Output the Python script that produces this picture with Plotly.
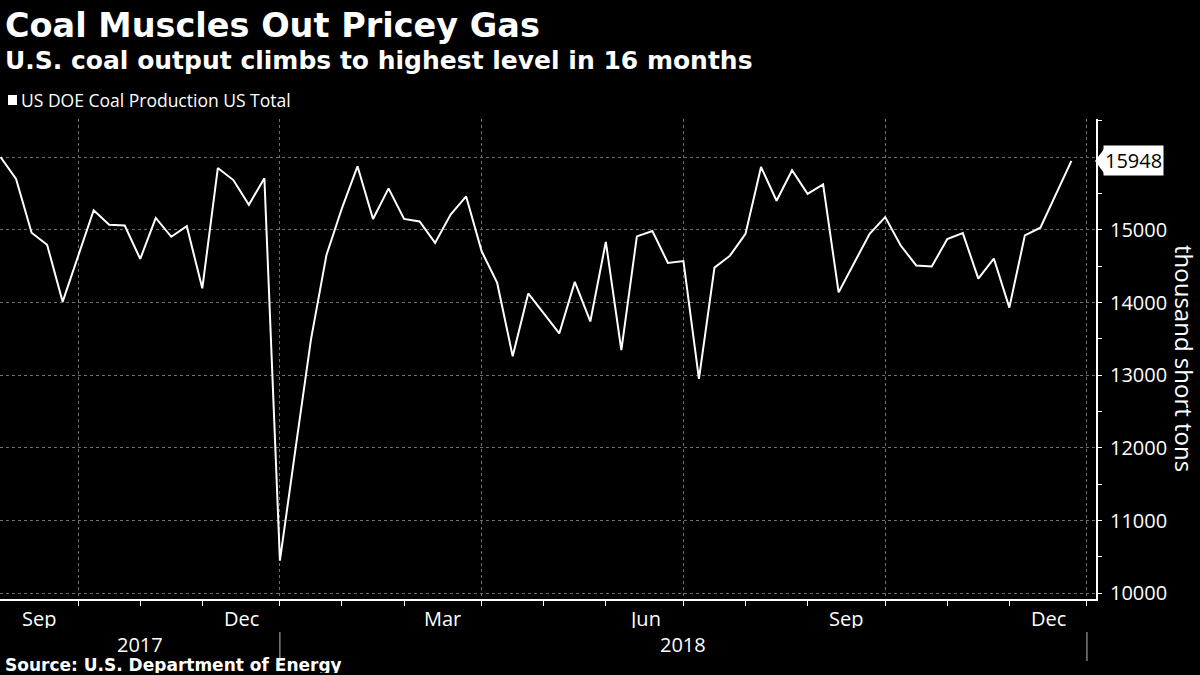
import pandas as pd
import plotly.graph_objects as go

# ---------------- data ----------------
week_ending = pd.date_range("2017-08-26", periods=70, freq="7D")
coal_production = [
    16000, 15700, 14960, 14795, 14010, 14640, 15270, 15070, 15060, 14600,
    15165, 14905, 15050, 14195, 15850, 15685, 15345, 15710, 10450, 11980,
    13490, 14655, 15300, 15875, 15150, 15570, 15150, 15115, 14820, 15210,
    15460, 14705, 14270, 13260, 14125, 13850, 13575, 14285, 13740, 14835,
    13345, 14910, 14985, 14545, 14570, 12950, 14480, 14645, 14945, 15865,
    15400, 15820, 15495, 15625, 14140, 14545, 14945, 15175, 14785, 14510,
    14495, 14875, 14955, 14330, 14605, 13930, 14925, 15030, 15490, 15948,
]
series_name = "US DOE Coal Production US Total"

month_ticks = ["2017-09-30", "2017-10-28", "2017-11-25", "2017-12-30",
               "2018-01-27", "2018-02-24", "2018-03-31", "2018-04-28",
               "2018-05-26", "2018-06-30", "2018-07-28", "2018-08-25",
               "2018-09-29", "2018-10-27", "2018-11-24", "2018-12-29"]
quarter_ticks = ["2017-09-30", "2017-12-30", "2018-03-31",
                 "2018-06-30", "2018-09-29", "2018-12-29"]
month_labels = [("Sep", "2017-08-26", "2017-09-30"),
                ("Dec", "2017-11-25", "2017-12-30"),
                ("Mar", "2018-02-24", "2018-03-31"),
                ("Jun", "2018-05-26", "2018-06-30"),
                ("Sep", "2018-08-25", "2018-09-29"),
                ("Dec", "2018-11-24", "2018-12-29")]
year_labels = [("2017", "2017-08-26", "2017-12-30"),
               ("2018", "2017-12-30", "2018-12-29")]
year_breaks = ["2017-12-30", "2018-12-29"]

y_ticks = [10000, 11000, 12000, 13000, 14000, 15000, 16000]
y_ticktext = ["10000", "11000", "12000", "13000", "14000", "15000", ""]

title = "Coal Muscles Out Pricey Gas"
subtitle = "U.S. coal output climbs to highest level in 16 months"
source = "Source: U.S. Department of Energy"
y_title = "thousand short tons"

# ---------------- layout geometry ----------------
W, H = 1200, 675
M_L, M_R, M_T, M_B = 0, 104, 119, 76
PW = W - M_L - M_R
PH = H - M_T - M_B
X_RANGE = ["2017-08-25 18:00", "2019-01-02 02:00"]
Y_RANGE = [9922, 16525]


def py(px):
    return (H - M_B - px) / PH


def px_x(px):
    return (px - M_L) / PW


def mid(a, b):
    ta, tb = pd.Timestamp(a), pd.Timestamp(b)
    return ta + (tb - ta) / 2


FONT = "Open Sans"
BOLD = "DejaVu Sans"
GRID = "#6e6e6e"

fig = go.Figure()
fig.add_trace(go.Scatter(
    x=week_ending, y=coal_production, mode="lines",
    line=dict(color="white", width=2), name=series_name,
    showlegend=False, hoverinfo="skip"))

minor_ticks = [t for t in month_ticks if t not in quarter_ticks]

fig.update_layout(
    width=W, height=H,
    paper_bgcolor="black", plot_bgcolor="black",
    margin=dict(l=M_L, r=M_R, t=M_T, b=M_B),
    showlegend=False,
    font=dict(family=FONT, color="white"),
    xaxis=dict(
        type="date", range=X_RANGE,
        tickmode="array", tickvals=quarter_ticks, ticktext=[""] * len(quarter_ticks),
        ticks="outside", ticklen=5, tickcolor="white", tickwidth=1,
        showgrid=True, gridcolor=GRID, griddash="dot", gridwidth=1,
        showline=True, linecolor="white", linewidth=2,
        zeroline=False,
        minor=dict(tickmode="array", tickvals=minor_ticks, ticks="outside",
                   ticklen=5, tickcolor="white", tickwidth=1, showgrid=False),
    ),
    yaxis=dict(
        side="right", range=Y_RANGE,
        tickmode="array", tickvals=y_ticks, ticktext=y_ticktext,
        ticks="outside", ticklen=4, tickcolor="white", tickwidth=1,
        tickfont=dict(family=FONT, size=20, color="white"),
        ticklabelstandoff=4,
        showgrid=True, gridcolor=GRID, griddash="dot", gridwidth=1,
        showline=True, linecolor="white", linewidth=2,
        zeroline=False,
        minor=dict(dtick=500, tick0=0, ticks="outside", ticklen=4,
                   tickcolor="white", tickwidth=1, showgrid=False),
    ),
)

ann = []
# titles
ann.append(dict(text=f"<b>{title}</b>", xref="paper", yref="paper",
                x=px_x(3), y=py(26), xanchor="left", yanchor="middle",
                showarrow=False, font=dict(family=BOLD, size=33.5, color="white")))
ann.append(dict(text=f"<b>{subtitle}</b>", xref="paper", yref="paper",
                x=px_x(3), y=py(61), xanchor="left", yanchor="middle",
                showarrow=False, font=dict(family=BOLD, size=25, color="white")))
# legend text
ann.append(dict(text=series_name, xref="paper", yref="paper",
                x=px_x(19), y=py(100), xanchor="left", yanchor="middle",
                showarrow=False, font=dict(family=FONT, size=17.5, color="white")))
# source
ann.append(dict(text=f"<b>{source}</b>", xref="paper", yref="paper",
                x=px_x(3), y=py(665), xanchor="left", yanchor="middle",
                height=16, showarrow=False,
                font=dict(family=BOLD, size=17, color="white")))
# y-axis title
ann.append(dict(text=y_title, xref="paper", yref="paper",
                x=px_x(1185), y=py(358), xanchor="center", yanchor="middle",
                textangle=90, showarrow=False,
                font=dict(family=FONT, size=24, color="white")))
# month labels
for lab, a, b in month_labels:
    ann.append(dict(text=lab, xref="x", yref="paper", x=mid(a, b), y=py(618),
                    xanchor="center", yanchor="middle", showarrow=False,
                    height=20, font=dict(family=FONT, size=20, color="white")))
for lab, a, b in year_labels:
    ann.append(dict(text=lab, xref="x", yref="paper", x=mid(a, b), y=py(644),
                    xanchor="center", yanchor="middle", showarrow=False,
                    height=18, font=dict(family=FONT, size=20, color="white")))
# last value callout
last_val = coal_production[-1]
ann.append(dict(text=f"{last_val}", xref="paper", yref="y",
                x=px_x(1103), y=last_val, xanchor="left", yanchor="middle",
                showarrow=False, bgcolor="white", borderpad=1,
                font=dict(family=FONT, size=20, color="black")))
fig.update_layout(annotations=ann)

shapes = []
# legend square
shapes.append(dict(type="rect", xref="paper", yref="paper",
                   x0=px_x(8), x1=px_x(17), y0=py(105), y1=py(95),
                   fillcolor="white", line=dict(width=0)))
# year separators
for d in year_breaks:
    shapes.append(dict(type="line", xref="x", yref="paper", x0=d, x1=d,
                       y0=py(632), y1=py(661),
                       line=dict(color="#bbbbbb", width=1)))
# callout pointer
units_per_px = (Y_RANGE[1] - Y_RANGE[0]) / PH
hh = 12 * units_per_px
shapes.append(dict(type="path", xref="paper", yref="y",
                   path=(f"M {px_x(1095)} {last_val} L {px_x(1104)} {last_val + hh} "
                         f"L {px_x(1104)} {last_val - hh} Z"),
                   fillcolor="white", line=dict(width=0)))
fig.update_layout(shapes=shapes)

fig.write_html("out.html",
               config={"displayModeBar": False},
               post_script="document.body.style.margin='0px';"
                           "document.body.style.overflow='hidden';")
